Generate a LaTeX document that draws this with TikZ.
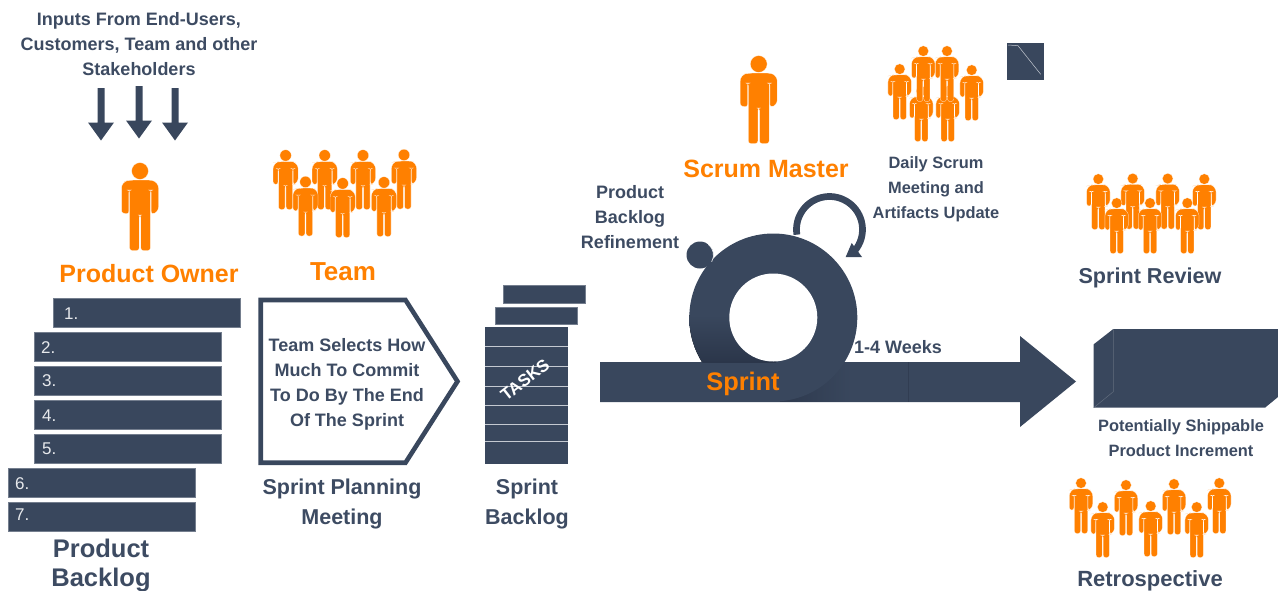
\documentclass[tikz,border=0pt]{standalone}
\usepackage{fontspec}
\setmainfont{Liberation Sans}
\definecolor{navy}{HTML}{39475D}
\definecolor{navydark}{HTML}{2B364A}
\definecolor{ink}{HTML}{3D4B62}
\definecolor{amber}{HTML}{FF8000}
\definecolor{pale}{HTML}{C4C9D1}
\newcommand{\fsz}[1]{\fontsize{#1}{#1}\selectfont\bfseries}
\tikzset{
  lbl/.style={inner sep=0pt,align=center,text=ink,font=\fsz{#1}},
  lbl/.default=17,
  olbl/.style={inner sep=0pt,align=center,text=amber,font=\fsz{#1}},
  bar/.style={fill=navy,draw=navy!70,line width=.4pt,minimum height=29pt,inner sep=0pt,rectangle},
  num/.style={inner sep=0pt,text=white!88!navy,font=\fontsize{17}{17}\selectfont},
  person/.pic={
    \fill[amber,draw=white,line width=.2pt] (0,8) circle (8.4);
    \fill[amber,draw=white,line width=.2pt,rounded corners=3pt]
      (-10,17) -- (10,17) [rounded corners=6pt] -- (18.5,19) -- (18.5,50) [rounded corners=2.5pt]
      -- (11.2,51) -- (11.2,27) -- (10.4,27) -- (10.4,87.5) -- (0.8,87.5) -- (0.8,52) -- (-0.8,52) -- (-0.8,87.5)
      -- (-10.4,87.5) -- (-10.4,27) -- (-11.2,27) -- (-11.2,51) -- (-18.5,50) [rounded corners=6pt] -- (-18.5,19) -- cycle;
  },
  downarrow/.pic={
    \fill[navy] (-3.5,0) -- (3.5,0) -- (3.5,34.5) -- (13,34.5) -- (0,52.5) -- (-13,34.5) -- (-3.5,34.5) -- cycle;
  }
}
\begin{document}
\begin{tikzpicture}[x=1pt,y=-1pt]
\useasboundingbox (0,0) rectangle (1278,590);
% inputs
\node[lbl=18] (inputs) at (139,44) {Inputs From End-Users,\\[7pt]Customers, Team and other\\[7pt]Stakeholders};
\pic at (101,88) {downarrow};
\pic at (139,86) {downarrow};
\pic at (175,88) {downarrow};
% product owner
\pic at (140,163) {person};
\node[olbl=25] (owner) at (149,273.7) {Product Owner};
% team
\foreach \x/\y in {285.6/150,324.7/150,363/150,404/149.5}
  \pic[scale=.68] at (\x,\y) {person};
\foreach \x/\y in {305.5/176.5,342.7/178,384/177}
  \pic[scale=.68] at (\x,\y) {person};
\node[olbl=26] (team) at (343,271.7) {Team};
% backlog
\node[bar,minimum width=187pt] (b1) at (146.7,313) {};
\node[bar,minimum width=187pt] (b2) at (128.1,347) {};
\node[bar,minimum width=187pt] (b3) at (127.4,380.4) {};
\node[bar,minimum width=187pt] (b4) at (128.1,414.4) {};
\node[bar,minimum width=187pt] (b5) at (127.4,448.8) {};
\node[bar,minimum width=187pt] (b6) at (101.7,482.5) {};
\node[bar,minimum width=187pt] (b7) at (101.7,516.4) {};
\node[num,anchor=west] at (64,314) {1.};
\node[num,anchor=west] at (41,348) {2.};
\node[num,anchor=west] at (42,381) {3.};
\node[num,anchor=west] at (42,416) {4.};
\node[num,anchor=west] at (42,449) {5.};
\node[num,anchor=west] at (15,484) {6.};
\node[num,anchor=west] at (15,515) {7.};
\node[lbl=25.5] (pblabel) at (101,565) {Product\\[3.5pt]Backlog};
% planning
\draw[navy,line width=4.6pt,miter limit=10] (260.7,300) -- (405.5,300) -- (457.5,381.4) -- (405.5,462.7) -- (260.7,462.7) -- cycle;
\node[lbl=18] (select) at (347,384.3) {Team Selects How\\[7pt]Much To Commit\\[7pt]To Do By The End\\[7pt]Of The Sprint};
\node[lbl=21.5] (plan) at (342,504) {Sprint Planning\\[8.5pt]Meeting};
% sprint backlog
\node[bar,minimum width=81.5pt,minimum height=17.5pt] (s1) at (544,294) {};
\node[bar,minimum width=81.5pt,minimum height=17.5pt] (s2) at (536,315.5) {};
\fill[navy] (485,327) rectangle (568,463.5);
\foreach \y in {346.7,366.7,386,405,424.3,441.7}
  \draw[pale,line width=.8pt] (485,\y) -- (568,\y);
\node[inner sep=0pt,text=white,rotate=38,font=\fsz{17}] (tasks) at (525,380) {TASKS};
\node[lbl=21.5] (sb) at (527,504) {Sprint\\[8.5pt]Backlog};
% sprint arrow
\fill[navy] (600,362) -- (1020,362) -- (1020,336) -- (1076,381.5) -- (1020,427) -- (1020,402) -- (600,402) -- cycle;
\fill[left color=navydark!80!navy,right color=navy] (780,362) rectangle (852,401.8);
\draw[navydark!60!navy,line width=.4pt] (908,362) -- (908,402);
% ring
\fill[navy] (773.3,317.5) circle (84);
\begin{scope}
  \clip (773.3,317.5) circle (84);
  \fill[top color=navy,bottom color=navydark] (680,315) rectangle (776,362);
\end{scope}
\fill[white] (773.3,317.5) circle (44);
\fill[navy] (700,255) circle (13.5);
\draw[white,line width=.6pt] (700,255) ++(-52:13.5) arc (-52:30:13.5);
\node[olbl=25.4] (sprint) at (743,383.5) {Sprint};
% loop arrow
\draw[navy,line width=6.7pt] (829.5,229.5) ++(171:33) arc (171:400:33);
\fill[navy] (845.7,257) -- (862,257) -- (851.7,243) -- cycle;
% scrum master
\pic at (758.7,56) {person};
\node[olbl=25] (sm) at (766,168.5) {Scrum Master};
\node[lbl=18] (refine) at (630,217.5) {Product\\[7pt]Backlog\\[7pt]Refinement};
\node[lbl=16.4] (daily) at (936,189) {Daily Scrum\\[8.6pt]Meeting and\\[8.6pt]Artifacts Update};
\foreach \x/\y in {921.3/86,947.7/86}
  \pic[scale=.635] at (\x,\y) {person};
\foreach \x/\y in {923.3/46,947/46,899.7/64,971.7/65}
  \pic[scale=.635] at (\x,\y) {person};
% small square
\fill[navy] (1006.7,42.7) rectangle (1044,80);
\draw[pale,line width=.5pt] (1008,45) -- (1018,45.7) -- (1040.7,74.3);
\node[lbl=18,anchor=west] (weeks) at (854,347) {1-4 Weeks};
% review
\foreach \x/\y in {1098.3/174,1132.7/173.5,1167.7/173.5,1204.3/174}
  \pic[scale=.635] at (\x,\y) {person};
\foreach \x/\y in {1116.7/198,1150/198,1187.3/198}
  \pic[scale=.635] at (\x,\y) {person};
\node[lbl=21.6] (review) at (1150,277.7) {Sprint Review};
% increment box
\fill[navy] (1093.7,344.3) -- (1113.3,329) -- (1278,329) -- (1278,397) -- (1265,407.7) -- (1093.7,407.7) -- cycle;
\draw[navy!80!white,line width=.5pt] (1113.3,329) -- (1113.3,391.7) -- (1093.7,407.7);
\node[lbl=16.4] (inc) at (1181,438) {Potentially Shippable\\[8.6pt]Product Increment};
% retrospective
\foreach \x/\y in {1081/478,1126/480,1174/479,1219.3/478,1102.7/502,1150.7/501,1196.7/502}
  \pic[scale=.635] at (\x,\y) {person};
\node[lbl=22] (retro) at (1150,580.5) {Retrospective};
\end{tikzpicture}
\end{document}
